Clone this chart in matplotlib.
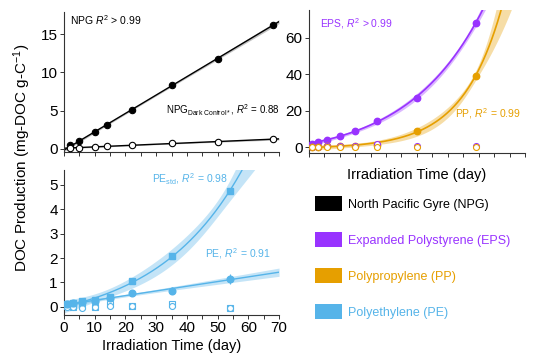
import numpy as np
import matplotlib
matplotlib.use("Agg")
import matplotlib.pyplot as plt
from matplotlib.patches import Patch
from matplotlib.ticker import MultipleLocator

plt.rcParams['font.family'] = ['Liberation Sans', 'DejaVu Sans']
plt.rcParams['mathtext.fontset'] = 'custom'
plt.rcParams['mathtext.rm'] = 'Liberation Sans'
plt.rcParams['mathtext.it'] = 'Liberation Sans:italic'

# data
days_npg = [2, 5, 10, 14, 22, 35, 50, 68]
npg = [0.5, 1.0, 2.2, 3.1, 5.1, 8.3, 11.8, 16.2]
npg_dark = [0.1, 0.15, 0.3, 0.4, 0.5, 0.75, 0.9, 1.3]

days = [1, 3, 6, 10, 15, 22, 35, 54]
eps = [1.5, 3.0, 4.0, 6.0, 9.0, 14.5, 27.0, 68.0]
eps_dark = [0.3, 0.3, 0.4, 0.4, 0.5, 1.5, 0.5, 0.5]
pp = [0.2, 0.3, 0.4, 0.5, 0.7, 1.2, 9.0, 39.0]
pp_dark = [0.0, 0.0, 0.0, 0.0, 0.0, 0.0, 0.0, 0.0]
pe_std = [0.1, 0.15, 0.25, 0.3, 0.4, 1.05, 2.1, 4.75]
pe_std_dark = [0.05, 0.0, 0.05, 0.0, 0.1, 0.05, 0.1, -0.05]
pe = [0.1, 0.15, 0.2, 0.25, 0.35, 0.55, 0.67, 1.15]
pe_err = [0.04, 0.04, 0.05, 0.05, 0.06, 0.08, 0.15, 0.2]
pe_dark = [0.0, 0.0, -0.05, 0.0, 0.05, 0.05, 0.05, -0.05]

legend_labels = ['North Pacific Gyre (NPG)', 'Expanded Polystyrene (EPS)',
                 'Polypropylene (PP)', 'Polyethylene (PE)']

black = '#000000'
purple = '#9933ff'
orange = '#e69f00'
blue = '#56b4e9'


def lin_fit(x, y, xs, k=2.5):
    x = np.asarray(x, float); y = np.asarray(y, float)
    A = np.column_stack([x, np.ones_like(x)])
    coef = np.linalg.lstsq(A, y, rcond=None)[0]
    r = y - A @ coef
    s2 = (r @ r) / (len(y) - 2)
    cov = s2 * np.linalg.inv(A.T @ A)
    Aq = np.column_stack([xs, np.ones_like(xs)])
    se = np.sqrt(np.einsum('ij,jk,ik->i', Aq, cov, Aq))
    return Aq @ coef, k * se


def exp_fit(x, y, xs, k=2.5):
    # y = a*exp(b*x) + c, b by grid search, a and c by least squares
    x = np.asarray(x, float); y = np.asarray(y, float)
    best = None
    for b in np.linspace(0.005, 0.2, 1500):
        A = np.column_stack([np.exp(b * x), np.ones_like(x)])
        coef = np.linalg.lstsq(A, y, rcond=None)[0]
        ss = np.sum((y - A @ coef) ** 2)
        if best is None or ss < best[0]:
            best = (ss, b, coef)
    ss, b, (a, c) = best
    J = np.column_stack([np.exp(b * x), a * x * np.exp(b * x), np.ones_like(x)])
    s2 = ss / (len(y) - 3)
    cov = s2 * np.linalg.pinv(J.T @ J)
    Jq = np.column_stack([np.exp(b * xs), a * xs * np.exp(b * xs), np.ones_like(xs)])
    se = np.sqrt(np.einsum('ij,jk,ik->i', Jq, cov, Jq))
    return a * np.exp(b * xs) + c, k * se


def style(ax, xlab=True):
    for s in ['top', 'right']:
        ax.spines[s].set_visible(False)
    for s in ['left', 'bottom']:
        ax.spines[s].set_linewidth(0.8)
        ax.spines[s].set_color('#333333')
    ax.set_xlim(0, 70)
    ax.xaxis.set_major_locator(MultipleLocator(10))
    ax.xaxis.set_minor_locator(MultipleLocator(5))
    ax.tick_params(which='both', direction='out', length=3, width=0.7,
                   labelsize=11, pad=1.5, colors='#333333', labelcolor='black')
    if not xlab:
        ax.tick_params(axis='x', labelbottom=False)


xs = np.linspace(0, 70, 300)

fig = plt.figure(figsize=(5.39, 3.62), dpi=100)

# top left: NPG
ax1 = fig.add_axes([0.1187, 0.580, 0.399, 0.387])
style(ax1, xlab=False)
for yv, face in [(npg, black), (npg_dark, 'white')]:
    p, e = lin_fit(days_npg, yv, xs, k=3.5)
    ax1.fill_between(xs, p - e, p + e, color='#999999', alpha=0.6, lw=0)
    ax1.plot(xs, p, color=black, lw=1)
    ax1.plot(days_npg, yv, 'o', ms=4.6, mfc=face, mec=black, mew=0.8, zorder=5)
ax1.set_ylim(-0.4, 17.9)
ax1.set_yticks([0, 5, 10, 15])
ax1.text(0.03, 0.91, 'NPG $R^2$ > 0.99', transform=ax1.transAxes, fontsize=7.5)
ax1.text(0.475, 0.27, r'NPG$_{\mathrm{Dark\ Control*}}$, $R^2$ = 0.88',
         transform=ax1.transAxes, fontsize=7)

# top right: EPS and PP
ax2 = fig.add_axes([0.573, 0.577, 0.401, 0.395])
style(ax2, xlab=False)
for yv, c in [(eps, purple), (pp, orange)]:
    p, e = exp_fit(days, yv, xs, k=3.5)
    ax2.fill_between(xs, p - e, p + e, color=c, alpha=0.35, lw=0)
    ax2.plot(xs, p, color=c, lw=1.2)
    ax2.plot(days, yv, 'o', ms=4.6, color=c, zorder=5)
ax2.plot(days, eps_dark, 'o', ms=4.3, mfc='white', mec=purple, mew=0.8, zorder=5)
ax2.errorbar(days, pp_dark, yerr=1.0, fmt='o', ms=4.3, mfc='white', mec=orange,
             ecolor=orange, elinewidth=0.8, capsize=0, mew=0.8, zorder=6)
ax2.set_ylim(-3.3, 75)
ax2.set_yticks([0, 20, 40, 60])
ax2.set_xlabel('Irradiation Time (day)', fontsize=10.5, labelpad=6)
ax2.text(0.05, 0.88, 'EPS, $R^2$ > 0.99', transform=ax2.transAxes,
         fontsize=7.5, color=purple)
ax2.text(0.675, 0.25, 'PP, $R^2$ = 0.99', transform=ax2.transAxes,
         fontsize=7.5, color=orange)

# bottom left: PE
ax3 = fig.add_axes([0.1187, 0.130, 0.399, 0.400])
style(ax3)
p, e = exp_fit(days, pe_std, xs, k=4.0)
ax3.fill_between(xs, p - e, p + e, color=blue, alpha=0.35, lw=0)
ax3.plot(xs, p, color=blue, lw=1)
p, e = lin_fit(days, pe, xs, k=3.5)
ax3.fill_between(xs, p - e, p + e, color=blue, alpha=0.35, lw=0)
ax3.plot(xs, p, color=blue, lw=1)
ax3.plot(days, pe_std, 's', ms=4.5, color=blue, zorder=5)
ax3.errorbar(days, pe, yerr=pe_err, fmt='o', ms=4.8, color=blue,
             elinewidth=0.8, capsize=0, zorder=5)
ax3.plot(days, pe_std_dark, 's', ms=4, mfc='white', mec=blue, mew=0.8, zorder=4)
ax3.plot(days, pe_dark, 'o', ms=4.3, mfc='white', mec=blue, mew=0.8, zorder=4)
ax3.set_ylim(-0.33, 5.6)
ax3.set_yticks([0, 1, 2, 3, 4, 5])
ax3.set_xlabel('Irradiation Time (day)', fontsize=10.5, labelpad=2.5)
ax3.text(0.41, 0.91, r'PE$_{\mathrm{std}}$, $R^2$ = 0.98', transform=ax3.transAxes,
         fontsize=7.5, color=blue)
ax3.text(0.655, 0.40, 'PE, $R^2$ = 0.91', transform=ax3.transAxes,
         fontsize=7.5, color=blue)

fig.text(0.041, 0.563, 'DOC Production (mg-DOC g-C$^{-1}$)', rotation=90,
         ha='center', va='center', fontsize=11)

# legend
handles = [Patch(facecolor=c, edgecolor='none') for c in [black, purple, orange, blue]]
leg = fig.legend(handles, legend_labels, loc='upper left',
                 bbox_to_anchor=(0.584, 0.458), frameon=False, fontsize=9,
                 handlelength=2.2, handleheight=1.44, labelspacing=1.7,
                 handletextpad=0.45, borderpad=0, borderaxespad=0)
for t, c in zip(leg.get_texts(), [black, purple, orange, blue]):
    t.set_color(c)

fig.savefig('out.png', dpi=100)
